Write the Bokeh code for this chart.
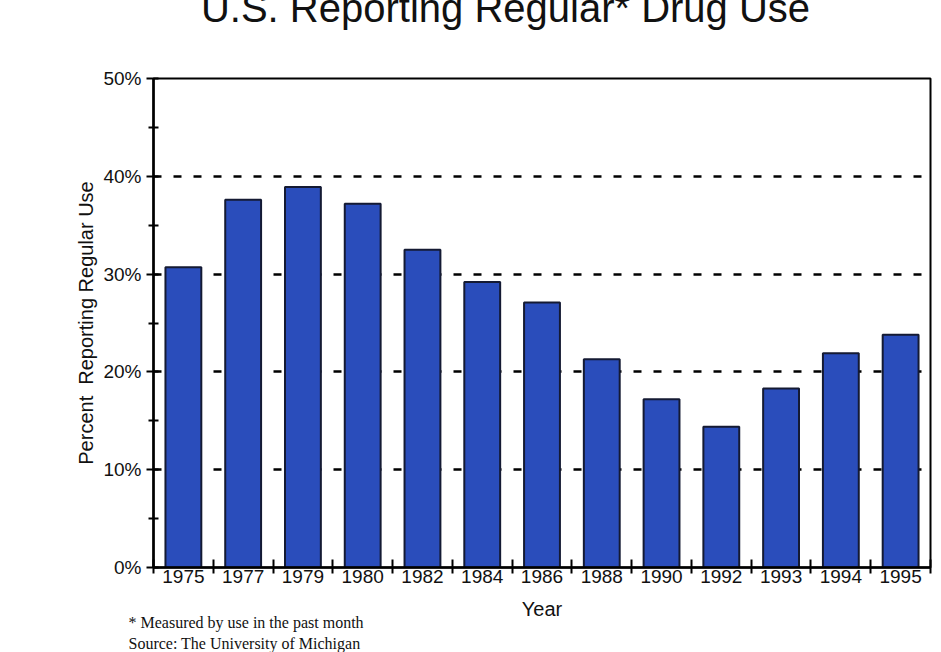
from bokeh.plotting import figure
from bokeh.models import Range1d, FixedTicker, PrintfTickFormatter, Label
from bokeh.embed import file_html
from bokeh.resources import INLINE
import numpy as np

# Share of students reporting regular (past-month) drug use, by survey year
years = ["1975", "1977", "1979", "1980", "1982", "1984", "1986",
         "1988", "1990", "1992", "1993", "1994", "1995"]
percent_use = [30.7, 37.6, 38.9, 37.2, 32.5, 29.2, 27.1,
               21.3, 17.2, 14.4, 18.3, 21.9, 23.8]
y_ticks = [0, 10, 20, 30, 40, 50]
y_minor = [5, 15, 25, 35, 45]
grid_levels = [10, 20, 30, 40]

n = len(years)
centers = list(np.arange(n) + 0.5)      # one slot per year
bounds = list(range(n + 1))             # tick marks sit between the slots

SANS = "Liberation Sans"
SERIF = "Liberation Serif"

p = figure(width=941, height=652, output_backend="svg", toolbar_location=None,
           x_range=Range1d(0, n), y_range=Range1d(0, 50),
           min_border_left=153, min_border_right=11,
           min_border_top=77, min_border_bottom=85)
p.background_fill_color = "white"
p.border_fill_color = "white"
p.outline_line_color = "black"
p.outline_line_width = 2

# bars
p.vbar(x=centers, top=percent_use, width=0.6,
       fill_color="#2a4dbb", line_color="#141a33", line_width=2)

# dashed reference lines behind the bars
p.xgrid.visible = False
p.ygrid.ticker = FixedTicker(ticks=grid_levels)
p.ygrid.grid_line_color = "black"
p.ygrid.grid_line_width = 2.5
p.ygrid.grid_line_dash = "8 12"

# y axis
ya = p.yaxis[0]
ya.ticker = FixedTicker(ticks=y_ticks, minor_ticks=y_minor)
ya.formatter = PrintfTickFormatter(format="%d%%")
ya.axis_line_width = 2.5
ya.axis_line_color = "black"
ya.major_tick_line_width = 2
ya.major_tick_in = 5
ya.major_tick_out = 7
ya.minor_tick_line_width = 2
ya.minor_tick_in = 5
ya.minor_tick_out = 5
ya.major_label_standoff = 5
ya.major_label_text_font = SANS
ya.major_label_text_font_size = "19px"
ya.major_label_text_color = "#111111"
ya.axis_label = "Percent\u00a0\u00a0Reporting Regular Use"
ya.axis_label_text_font = SANS
ya.axis_label_text_font_size = "20px"
ya.axis_label_text_font_style = "normal"
ya.axis_label_text_color = "#111111"
ya.axis_label_standoff = 3

# x axis: labels centred on the bars, ticks between them
xa = p.xaxis[0]
xa.ticker = FixedTicker(ticks=centers, minor_ticks=bounds)
xa.major_label_overrides = {c: y for c, y in zip(centers, years)}
xa.axis_line_width = 2.5
xa.axis_line_color = "black"
xa.major_tick_in = 0
xa.major_tick_out = 0
xa.minor_tick_line_width = 2
xa.minor_tick_in = 8
xa.minor_tick_out = 6
xa.major_label_standoff = -4
xa.major_label_text_font = SANS
xa.major_label_text_font_size = "19px"
xa.major_label_text_color = "#111111"
xa.axis_label = "Year"
xa.axis_label_text_font = SANS
xa.axis_label_text_font_size = "20px"
xa.axis_label_text_font_style = "normal"
xa.axis_label_text_color = "#111111"
xa.axis_label_standoff = 12

# heading and footnotes sit in the top side panel so they are not clipped to
# the frame; x is offset from the frame's left edge, y is in axis units
p.add_layout(Label(x=352, y=57.2, x_units="screen", y_units="data",
                   text="U.S. Reporting Regular* Drug Use",
                   text_font=SANS, text_font_size="40px", text_color="#111111",
                   text_align="center", text_baseline="alphabetic"), "above")
p.add_layout(Label(x=-25, y=-5.6, x_units="screen", y_units="data",
                   text="* Measured by use in the past month",
                   text_font=SERIF, text_font_size="16px", text_color="#111111",
                   text_baseline="alphabetic"), "above")
p.add_layout(Label(x=-25, y=-7.8, x_units="screen", y_units="data",
                   text="Source: The University of Michigan",
                   text_font=SERIF, text_font_size="16px", text_color="#111111",
                   text_baseline="alphabetic"), "above")

open("out.html", "w").write(file_html(p, INLINE))
